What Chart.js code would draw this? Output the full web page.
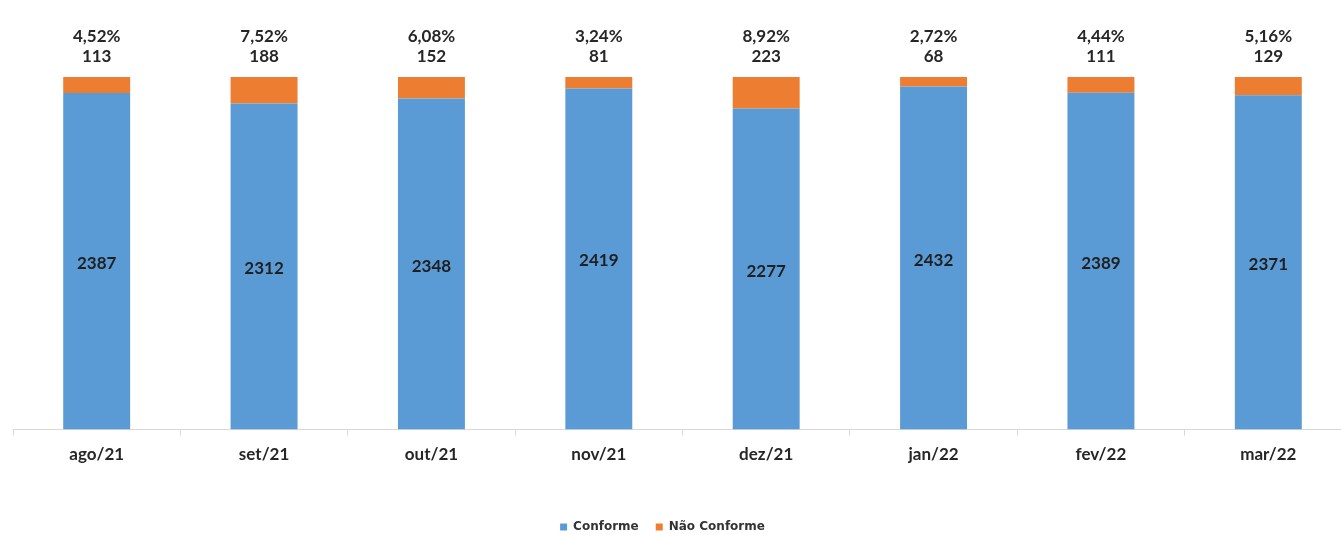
<!DOCTYPE html>
<html>
<head>
<meta charset="utf-8">
<script src="https://cdn.jsdelivr.net/npm/chart.js@4/dist/chart.umd.min.js"></script>
<style>
  html, body { margin: 0; padding: 0; background: #fff; overflow: hidden; }
  #wrap { width: 1352px; height: 535px; }
</style>
</head>
<body>
<div id="wrap"><canvas id="bar-chart"></canvas></div>
<script>
var months = ['ago/21', 'set/21', 'out/21', 'nov/21', 'dez/21', 'jan/22', 'fev/22', 'mar/22'];
var conforme = [2387, 2312, 2348, 2419, 2277, 2432, 2389, 2371];
var naoConforme = [113, 188, 152, 81, 223, 68, 111, 129];
var percentuais = ['4,52%', '7,52%', '6,08%', '3,24%', '8,92%', '2,72%', '4,44%', '5,16%'];

var fontFam = 'Lato, "Open Sans", sans-serif';

// draws the numbers inside the blue bars and the % + count on top
var labelPlugin = {
  id: 'labels',
  afterDatasetsDraw: function(chart) {
    var ctx = chart.ctx;
    var metaC = chart.getDatasetMeta(0);
    var metaN = chart.getDatasetMeta(1);
    ctx.save();
    ctx.textAlign = 'center';
    ctx.textBaseline = 'middle';
    ctx.fillStyle = '#1f1f1f';
    ctx.font = 'bold 17px ' + fontFam;
    metaC.data.forEach(function(bar, i) {
      ctx.fillText(conforme[i], bar.x, (bar.y + bar.base) / 2 + 2);
    });
    ctx.fillStyle = '#262626';
    metaN.data.forEach(function(bar, i) {
      ctx.fillText(naoConforme[i], bar.x, bar.y - 20);
      ctx.fillText(percentuais[i], bar.x, bar.y - 40);
    });
    ctx.restore();
  }
};

// nudge legend a little left and down, like the original
var legendShift = {
  id: 'legendShift',
  afterLayout: function(chart) {
    if (chart.legend) {
      chart.legend.left -= 20;
      chart.legend.right -= 20;
      chart.legend.top += 8;
      chart.legend.bottom += 8;
    }
  }
};

var myChart = new Chart(document.getElementById('bar-chart'), {
  type: 'bar',
  data: {
    labels: months,
    datasets: [{
      label: 'Conforme',
      data: conforme,
      backgroundColor: '#5B9BD5',
      barPercentage: 0.8,
      categoryPercentage: 0.5
    }, {
      label: 'Não Conforme',
      data: naoConforme,
      backgroundColor: '#ED7D31',
      barPercentage: 0.8,
      categoryPercentage: 0.5
    }]
  },
  options: {
    responsive: true,
    maintainAspectRatio: false,
    animation: false,
    layout: {
      padding: { top: 77, left: 13, right: 0, bottom: 0 }
    },
    scales: {
      x: {
        stacked: true,
        afterFit: function(axis) {
          axis.height += 22;
        },
        grid: {
          offset: true,
          drawOnChartArea: false,
          tickLength: 6,
          color: '#d9d9d9'
        },
        border: { color: '#d9d9d9' },
        ticks: {
          color: '#262626',
          font: { family: fontFam, size: 17, weight: 'bold' },
          padding: 9
        }
      },
      y: {
        stacked: true,
        display: false,
        min: 0,
        max: 2500
      }
    },
    plugins: {
      legend: {
        position: 'bottom',
        labels: {
          boxWidth: 7,
          boxHeight: 7,
          color: '#333333',
          padding: 17,
          font: { family: '"DejaVu Sans", sans-serif', size: 12, weight: 'bold' }
        }
      },
      tooltip: { enabled: false }
    }
  },
  plugins: [labelPlugin, legendShift]
});
</script>
</body>
</html>
